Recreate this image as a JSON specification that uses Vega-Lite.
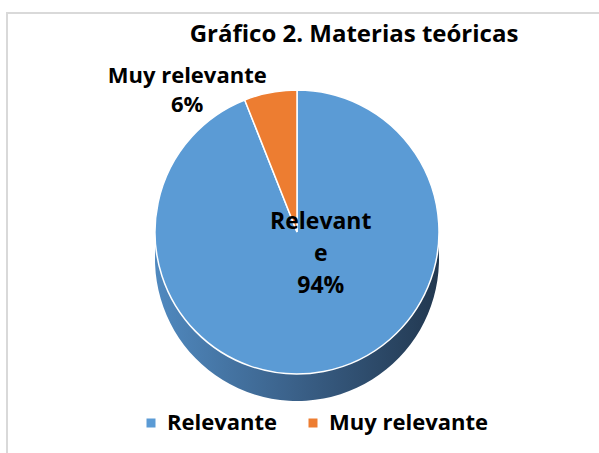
{
  "$schema": "https://vega.github.io/schema/vega-lite/v6.json",
  "width": 596,
  "height": 444,
  "autosize": {"type": "none"},
  "padding": {"left": 7, "top": 13, "right": -4, "bottom": -4},
  "background": "white",
  "config": {
    "view": {"stroke": null},
    "font": "Open Sans"
  },
  "title": {
    "text": "Gráfico 2. Materias teóricas",
    "orient": "top",
    "anchor": "middle",
    "frame": "group",
    "offset": -54,
    "baseline": "alphabetic",
    "dx": 49,
    "fontSize": 24,
    "fontWeight": "bold",
    "font": "Open Sans",
    "color": "#000000"
  },
  "data": {
    "values": [
      {"cat": "Relevante", "value": 94, "label": "Relevant\ne\n94%"},
      {"cat": "Muy relevante", "value": 6, "label": "Muy relevante\n6%"}
    ]
  },
  "layer": [
    {
      "mark": {"type": "rect", "fill": null, "stroke": "#d9d9d9", "strokeWidth": 2},
      "encoding": {
        "x": {"value": 0},
        "x2": {"value": "width"},
        "y": {"value": 0},
        "y2": {"value": "height"}
      }
    },
    {
      "mark": {"type": "rule", "stroke": "#d9d9d9", "strokeWidth": 2},
      "encoding": {
        "x": {"value": 0},
        "x2": {"value": "width"},
        "y": {"value": 0}
      }
    },
    {
      "mark": {
        "type": "arc",
        "outerRadius": 142,
        "x": {"expr": "width/2 - 8"},
        "y": {"expr": "height/2 + 24"},
        "fill": {
          "gradient": "linear",
          "x1": 0, "y1": 0, "x2": 1, "y2": 0,
          "stops": [
            {"offset": 0, "color": "#5089bf"},
            {"offset": 0.5, "color": "#3a6088"},
            {"offset": 1, "color": "#223850"}
          ]
        },
        "stroke": null
      },
      "encoding": {
        "theta": {"field": "value", "type": "quantitative", "stack": true},
        "order": {"field": "value", "sort": "descending"}
      }
    },
    {
      "mark": {
        "type": "arc",
        "outerRadius": 142,
        "x": {"expr": "width/2 - 8"},
        "y": {"expr": "height/2 - 3"},
        "stroke": "white",
        "strokeWidth": 1.5
      },
      "encoding": {
        "theta": {"field": "value", "type": "quantitative", "stack": true},
        "order": {"field": "value", "sort": "descending"},
        "color": {
          "field": "cat",
          "type": "nominal",
          "scale": {"domain": ["Relevante", "Muy relevante"], "range": ["#5B9BD5", "#ED7D31"]},
          "legend": {
            "title": null,
            "orient": "none",
            "direction": "horizontal",
            "legendX": 133,
            "legendY": 399,
            "padding": 0,
            "symbolType": "square",
            "symbolSize": 81,
            "symbolStrokeWidth": 0,
            "labelFont": "Open Sans",
            "labelFontSize": 22,
            "labelFontWeight": "bold",
            "labelColor": "#000000",
            "labelOffset": 5,
            "labelLimit": 400,
            "columnPadding": 24
          }
        }
      }
    },
    {
      "mark": {
        "type": "text",
        "x": {"expr": "width/2 - 8"},
        "y": {"expr": "height/2 - 3"},
        "radius": 20,
        "dx": 20,
        "dy": -30,
        "lineBreak": "\n",
        "lineHeight": 32,
        "fontSize": 23,
        "fontWeight": "bold",
        "font": "Open Sans",
        "color": "#000000",
        "align": "center",
        "baseline": "middle"
      },
      "encoding": {
        "theta": {"field": "value", "type": "quantitative", "stack": true},
        "order": {"field": "value", "sort": "descending"},
        "text": {"condition": {"test": "datum.cat === 'Relevante'", "field": "label"}, "value": ""}
      }
    },
    {
      "mark": {
        "type": "text",
        "x": {"expr": "width/2 - 8"},
        "y": {"expr": "height/2 - 3"},
        "radius": 159,
        "dx": -80,
        "lineBreak": "\n",
        "lineHeight": 29,
        "fontSize": 22,
        "fontWeight": "bold",
        "font": "Open Sans",
        "color": "#000000",
        "align": "center",
        "baseline": "middle"
      },
      "encoding": {
        "theta": {"field": "value", "type": "quantitative", "stack": true},
        "order": {"field": "value", "sort": "descending"},
        "text": {"condition": {"test": "datum.cat === 'Muy relevante'", "field": "label"}, "value": ""}
      }
    }
  ]
}
